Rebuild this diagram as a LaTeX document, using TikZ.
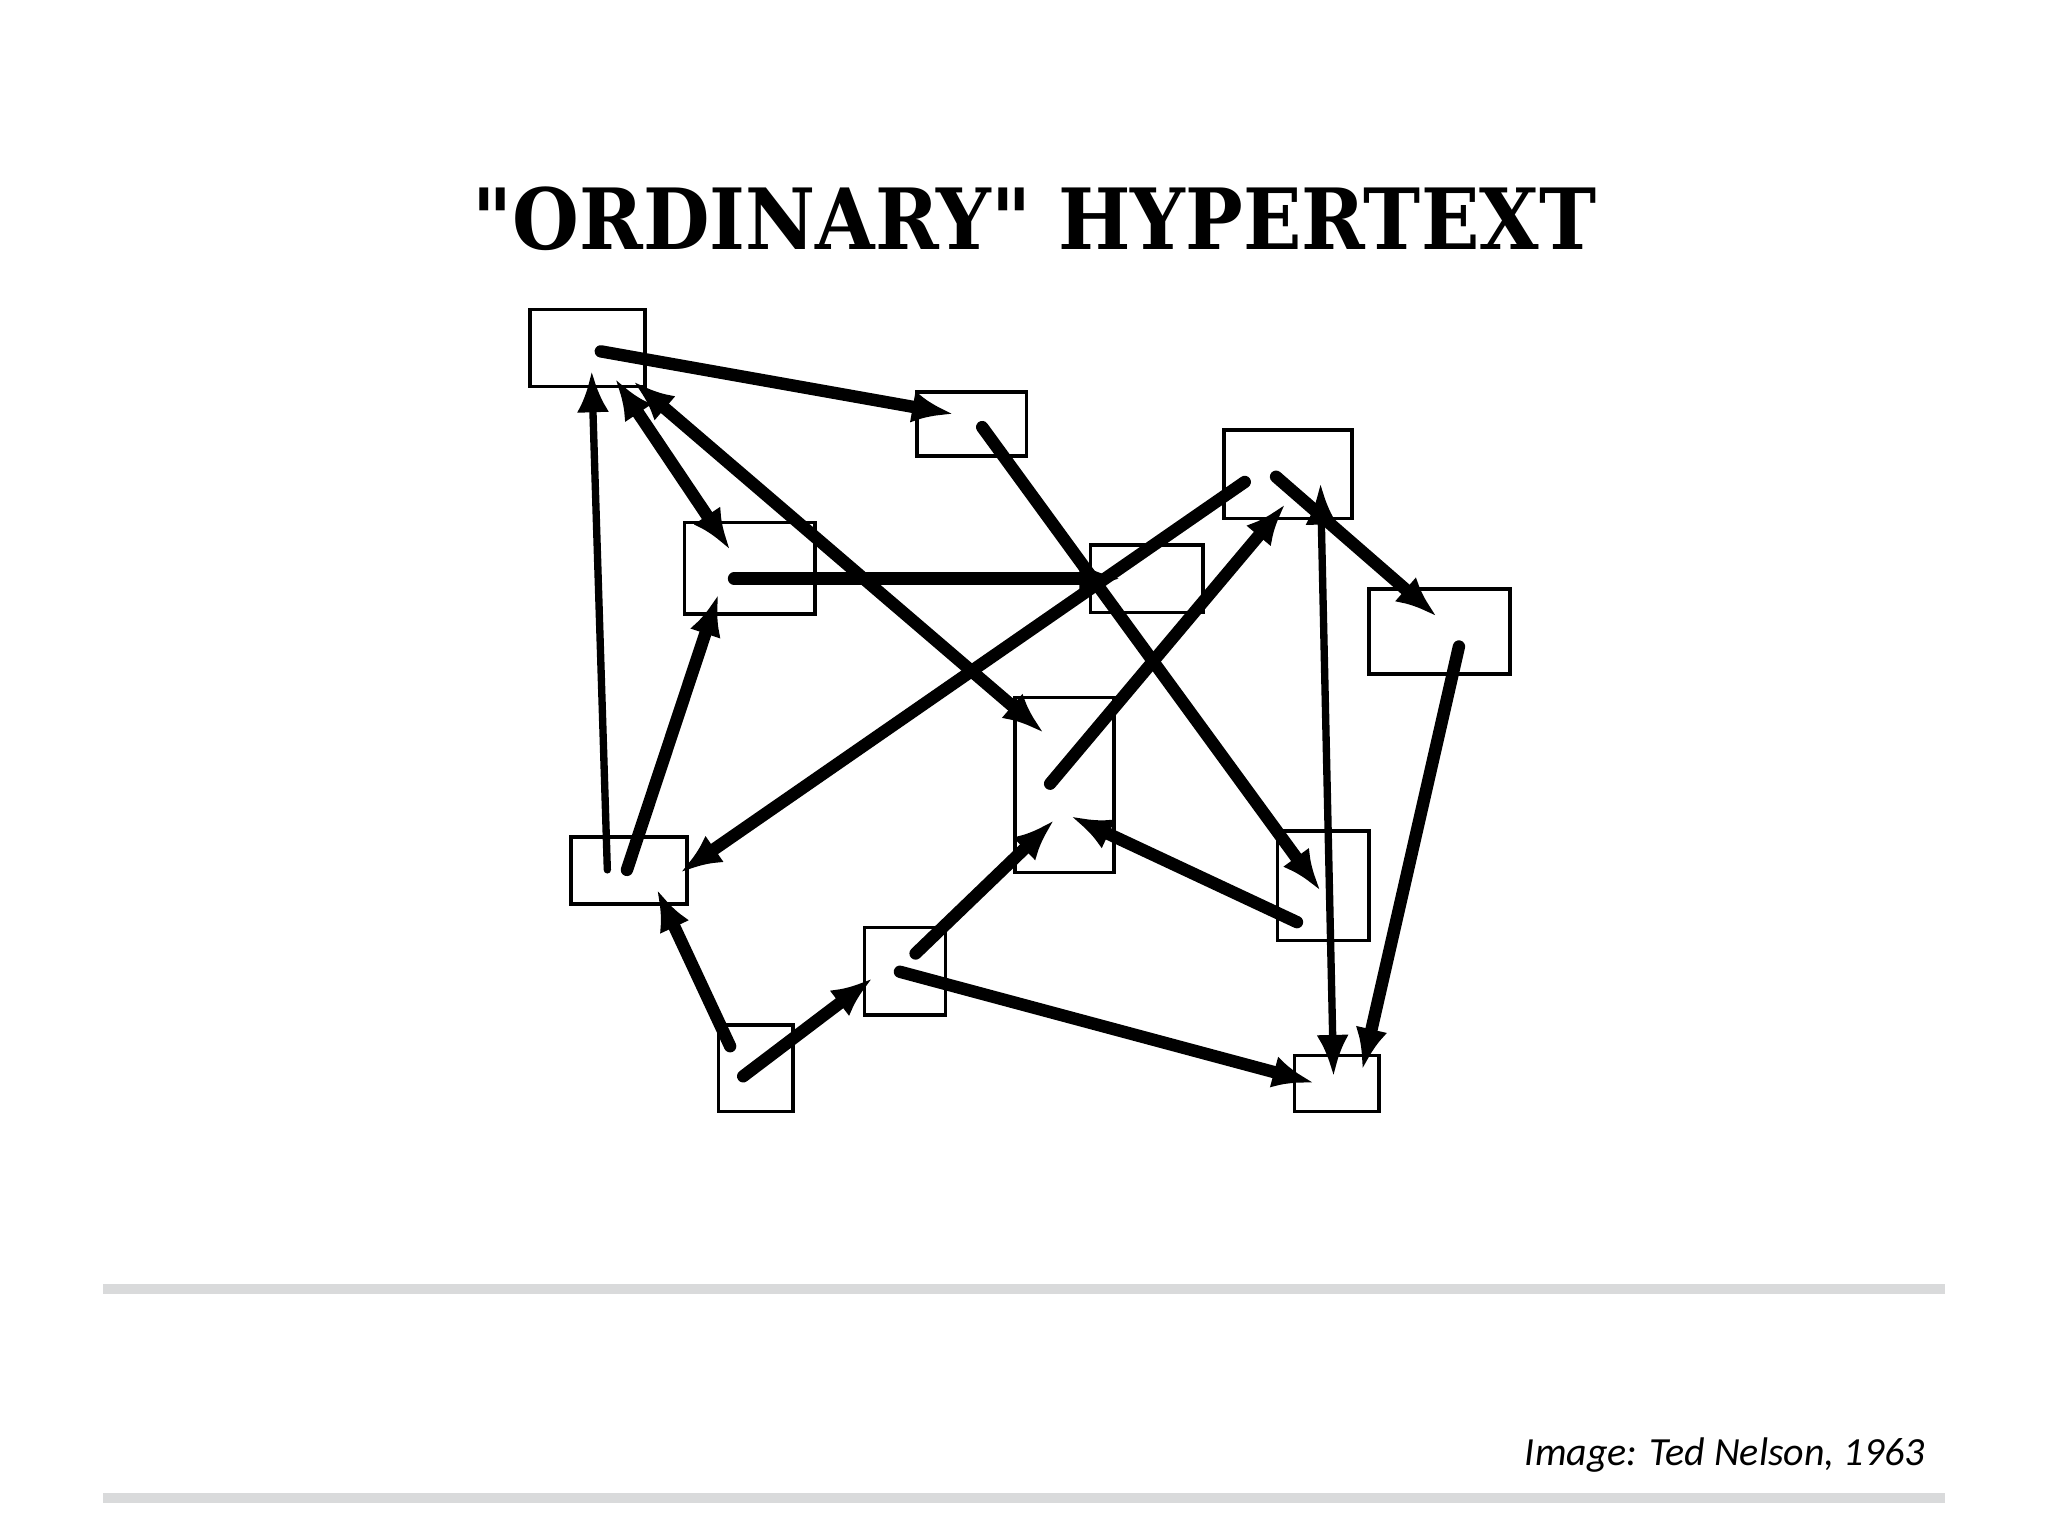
\documentclass[tikz,border=0pt]{standalone}
\usepackage{fontspec}
\usepackage{graphicx}
\usetikzlibrary{arrows.meta}
\newfontfamily\titlefont{DejaVu Serif}
\newfontfamily\notefont{Carlito}
\definecolor{rulegray}{RGB}{217,218,219}
\tikzset{
  box/.style={draw,line width=0.8pt,inner sep=0pt,outer sep=0pt},
  link/.style={line width=2.7pt,line cap=round},
  thinlink/.style={line width=1.6pt,line cap=round}
}
\begin{document}
\begin{tikzpicture}[>={Latex[length=9pt,width=7pt]},x=0.1mm,y=-0.1mm]
\useasboundingbox (0,0) rectangle (1568,1176);

\node[anchor=base] (title) at (792,191) {\resizebox{8.6cm}{0.48cm}{\titlefont\bfseries "ORDINARY" HYPERTEXT}};

\node[box,minimum width=8.8mm,minimum height=5.9mm] (A) at (450,266.5) {};
\node[box,minimum width=8.4mm,minimum height=4.9mm] (B) at (744,324.5) {};
\node[box,minimum width=10mm,minimum height=7mm] (C) at (574,435) {};
\node[box,minimum width=8.6mm,minimum height=5.2mm] (D) at (878,443) {};
\node[box,minimum width=9.8mm,minimum height=6.8mm] (E) at (986,363) {};
\node[box,minimum width=10.8mm,minimum height=6.5mm] (F) at (1102,483.5) {};
\node[box,minimum width=7.6mm,minimum height=13.4mm] (G) at (815,601) {};
\node[box,minimum width=8.9mm,minimum height=5.1mm] (H) at (481.5,666.5) {};
\node[box,minimum width=7mm,minimum height=8.4mm] (I) at (1013,678) {};
\node[box,minimum width=6.2mm,minimum height=6.7mm] (J) at (693,743.5) {};
\node[box,minimum width=5.7mm,minimum height=6.6mm] (K) at (578.5,818) {};
\node[box,minimum width=6.5mm,minimum height=4.3mm] (L) at (1023.5,829.5) {};

\coordinate (A-b) at (460,269);
\coordinate (A-h) at (453,284);
\coordinate (A-c) at (471,290);
\coordinate (A-g) at (485,292);
\coordinate (B-a) at (730,317);
\coordinate (B-i) at (752,327);
\coordinate (C-a) at (559,421);
\coordinate (C-d) at (562,443);
\coordinate (C-h) at (550,455);
\coordinate (D-c) at (858,443);
\coordinate (E-h) at (953,369);
\coordinate (E-g) at (984,386);
\coordinate (E-f) at (977,365);
\coordinate (E-l) at (1011,370);
\coordinate (F-e) at (1100,472);
\coordinate (F-l) at (1117,495);
\coordinate (G-a) at (799,561);
\coordinate (G-e) at (804,600);
\coordinate (G-j) at (807,628);
\coordinate (G-i) at (820,625);
\coordinate (H-a) at (465,666);
\coordinate (H-c) at (480,666);
\coordinate (H-e) at (521,668);
\coordinate (H-k) at (503,681);
\coordinate (I-b) at (1011,682);
\coordinate (I-g) at (993,706);
\coordinate (J-k) at (668,749);
\coordinate (J-g) at (701,730);
\coordinate (J-l) at (689,744);
\coordinate (K-h) at (559,801);
\coordinate (K-j) at (569,824);
\coordinate (L-e) at (1021,824);
\coordinate (L-f) at (1043,819);
\coordinate (L-j) at (1006,829);

\draw[link,->] (A-b) -- (B-a);
\draw[link,->] (B-i) -- (I-b);
\draw[link,<->] (A-c) -- (C-a);
\draw[link,<->] (A-g) -- (G-a);
\draw[link,->] (C-d) -- (D-c);
\draw[link,->] (E-h) -- (H-e);
\draw[link,->] (G-e) -- (E-g);
\draw[link,->] (E-f) -- (F-e);
\draw[thinlink,<->] (E-l) -- (L-e);
\draw[link,->] (F-l) -- (L-f);
\draw[thinlink,->] (H-a) -- (A-h);
\draw[link,->] (H-c) -- (C-h);
\draw[link,->] (K-h) -- (H-k);
\draw[link,->] (K-j) -- (J-k);
\draw[link,->] (J-g) -- (G-j);
\draw[link,->] (J-l) -- (L-j);
\draw[link,->] (I-g) -- (G-i);

\fill[rulegray] (79,983) rectangle (1489,991);
\fill[rulegray] (79,1143) rectangle (1489,1151);
\node[anchor=base east,font=\notefont\itshape\fontsize{8.7}{11}\selectfont] (credit) at (1486,1122) {Image: Ted Nelson, 1963};
\end{tikzpicture}
\end{document}
